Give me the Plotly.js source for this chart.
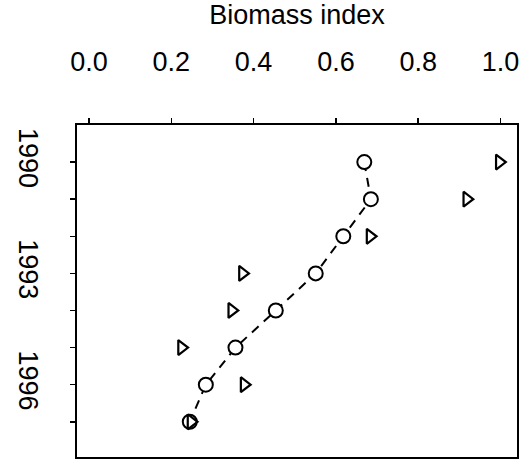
<!DOCTYPE html>
<html>
<head>
<meta charset="utf-8">
<script src="https://cdn.plot.ly/plotly-3.0.1.min.js"></script>
<style>html,body{margin:0;padding:0;background:#fff;}#plot{width:524px;height:463px;}</style>
</head>
<body>
<div id="plot"></div>
<script>
var years = [1990, 1991, 1992, 1993, 1994, 1995, 1996, 1997];
var circleValues = [0.669, 0.685, 0.618, 0.551, 0.454, 0.356, 0.284, 0.245];
var triangleValues = [0.997, 0.918, 0.683, 0.373, 0.347, 0.225, 0.377, 0.248];
var yearTickLabels = ['1990', '', '', '1993', '', '', '1996', ''];
var xTickVals = [0, 0.2, 0.4, 0.6, 0.8, 1.0];
var xTickText = ['0.0', '0.2', '0.4', '0.6', '0.8', '1.0'];

var traces = [
  {
    x: circleValues, y: years, type: 'scatter', mode: 'lines',
    line: {color: '#000', width: 2, dash: '9px,7px'},
    hoverinfo: 'skip', showlegend: false
  },
  {
    x: circleValues, y: years, type: 'scatter', mode: 'markers',
    marker: {symbol: 'circle', size: 14, color: '#fff', line: {width: 2, color: '#000'}},
    showlegend: false
  },
  {
    x: triangleValues, y: years, type: 'scatter', mode: 'markers',
    marker: {symbol: 'triangle-right-open', size: 13, color: '#000', line: {width: 2.2, color: '#000'}},
    showlegend: false
  }
];

var fam = 'Liberation Sans, Arial, sans-serif';

var layout = {
  width: 524, height: 463,
  margin: {l: 77, r: 7, t: 125, b: 6},
  paper_bgcolor: '#fff', plot_bgcolor: '#fff',
  font: {family: fam, color: '#000', size: 27},
  showlegend: false,
  xaxis: {
    side: 'top',
    range: [-0.029, 1.04],
    tickvals: xTickVals, ticktext: xTickText,
    ticks: 'outside', ticklen: 5, tickwidth: 1.5, tickcolor: '#000',
    ticklabelstandoff: 36,
    showline: true, linecolor: '#000', linewidth: 2, mirror: true,
    showgrid: false, zeroline: false,
    tickfont: {family: fam, size: 27, color: '#000'},
    title: {text: 'Biomass index', font: {family: fam, size: 27, color: '#000'}, standoff: 21}
  },
  yaxis: {
    range: [1997.95, 1989.0],
    tickvals: years, ticktext: yearTickLabels,
    tickangle: 90,
    ticks: 'outside', ticklen: 5, tickwidth: 1.5, tickcolor: '#000',
    ticklabelstandoff: 19,
    showline: true, linecolor: '#000', linewidth: 2, mirror: true,
    showgrid: false, zeroline: false,
    tickfont: {family: fam, size: 27, color: '#000'}
  }
};

Plotly.newPlot('plot', traces, layout, {staticPlot: true, displayModeBar: false});
</script>
</body>
</html>
